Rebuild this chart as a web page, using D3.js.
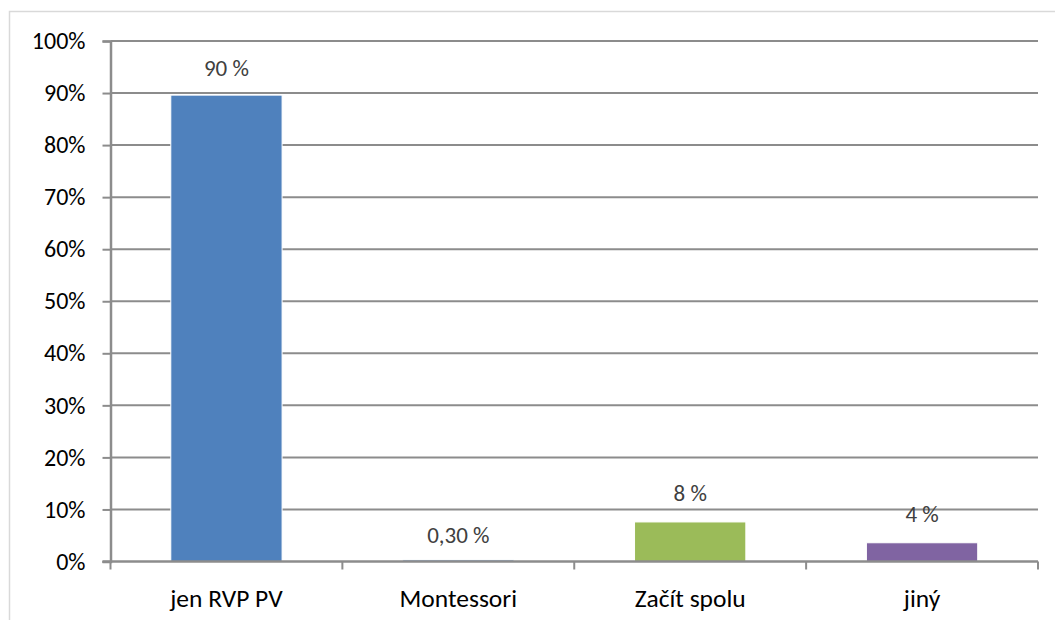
<!DOCTYPE html>
<html>
<head>
<meta charset="utf-8">
<script src="https://cdn.jsdelivr.net/npm/d3@7"></script>
<style>
  body { margin: 0; background: #fff; }
  svg { display: block; }
  text { font-family: Calibri, Carlito, Lato, "Open Sans", sans-serif; }
</style>
</head>
<body>
<div id="container"></div>
<script>
var width = 1055;
var height = 620;

// data
var categories = ["jen RVP PV", "Montessori", "Začít spolu", "jiný"];
var values = [0.896, 0.003, 0.076, 0.036];
var valueLabels = ["90 %", "0,30 %", "8 %", "4 %"];
var barColors = ["#4f81bd", "#4f81bd", "#9bbb59", "#8064a2"];
var yTicks = [0, 0.1, 0.2, 0.3, 0.4, 0.5, 0.6, 0.7, 0.8, 0.9, 1];

// baseline of each data label above its bar top
var labelLift = [19.5, 17, 21, 21];

var margin = {left: 110.5, right: 17, top: 41, bottom: 58};

const SVG = d3.select("#container")
              .append("svg")
              .attr("width", width)
              .attr("height", height);

// outer frame
SVG.append("rect")
   .attr("x", 9.5)
   .attr("y", 11.5)
   .attr("width", 1200)
   .attr("height", 800)
   .attr("fill", "none")
   .attr("stroke", "#d9d9d9")
   .attr("stroke-width", 1.5);

const x = d3.scaleBand()
            .domain(categories)
            .range([margin.left, width - margin.right])
            .paddingInner(0.52)
            .paddingOuter(0.26);

const band = d3.scaleBand()
               .domain(categories)
               .range([margin.left, width - margin.right]);

const y = d3.scaleLinear()
            .domain([0, 1])
            .range([height - margin.bottom - 0.5, margin.top]);

// gridlines
SVG.append("g")
   .selectAll("line")
   .data(yTicks.filter(d => d > 0))
   .enter()
   .append("line")
   .attr("x1", margin.left)
   .attr("x2", width - margin.right)
   .attr("y1", d => y(d))
   .attr("y2", d => y(d))
   .attr("stroke", "#8c8c8c")
   .attr("stroke-width", 2);

// bars
SVG.append("g")
   .selectAll("rect")
   .data(categories)
   .enter()
   .append("rect")
   .attr("x", d => x(d))
   .attr("width", x.bandwidth())
   .attr("y", (d, i) => y(values[i]))
   .attr("height", (d, i) => y(0) - y(values[i]))
   .attr("fill", (d, i) => barColors[i])
   .attr("stroke", "#fff")
   .attr("stroke-width", 1);

// y axis
const yAxis = d3.axisLeft(y)
                .tickValues(yTicks)
                .tickFormat(d3.format(".0%"))
                .tickSize(8)
                .tickPadding(17);

const gy = SVG.append("g")
              .attr("transform", `translate(${margin.left},0)`)
              .call(yAxis);
gy.select(".domain").attr("stroke", "#8c8c8c").attr("stroke-width", 2.5);
gy.selectAll(".tick line").attr("stroke", "#8c8c8c").attr("stroke-width", 2);
gy.selectAll(".tick text")
  .attr("fill", "#000")
  .style("font-size", "24px");

// x axis
const gx = SVG.append("g")
              .attr("transform", `translate(0,${y(0)})`);
gx.append("line")
  .attr("x1", margin.left - 8)
  .attr("x2", width - margin.right)
  .attr("stroke", "#8c8c8c")
  .attr("stroke-width", 2.5);
gx.selectAll(".xtick")
  .data(categories.concat(["end"]))
  .enter()
  .append("line")
  .attr("class", "xtick")
  .attr("x1", (d, i) => i < categories.length ? band(d) : width - margin.right)
  .attr("x2", (d, i) => i < categories.length ? band(d) : width - margin.right)
  .attr("y1", 0)
  .attr("y2", 8)
  .attr("stroke", "#8c8c8c")
  .attr("stroke-width", 2);
gx.selectAll(".xlabel")
  .data(categories)
  .enter()
  .append("text")
  .attr("class", "xlabel")
  .attr("x", d => band(d) + band.bandwidth() / 2)
  .attr("y", 45)
  .attr("text-anchor", "middle")
  .style("font-size", "25.5px")
  .attr("fill", "#000")
  .text(d => d);

// data labels
SVG.append("g")
   .selectAll("text")
   .data(categories)
   .enter()
   .append("text")
   .attr("x", d => band(d) + band.bandwidth() / 2)
   .attr("y", (d, i) => y(values[i]) - labelLift[i])
   .attr("text-anchor", "middle")
   .style("font-size", "23px")
   .attr("fill", "#404040")
   .text((d, i) => valueLabels[i]);
</script>
</body>
</html>
